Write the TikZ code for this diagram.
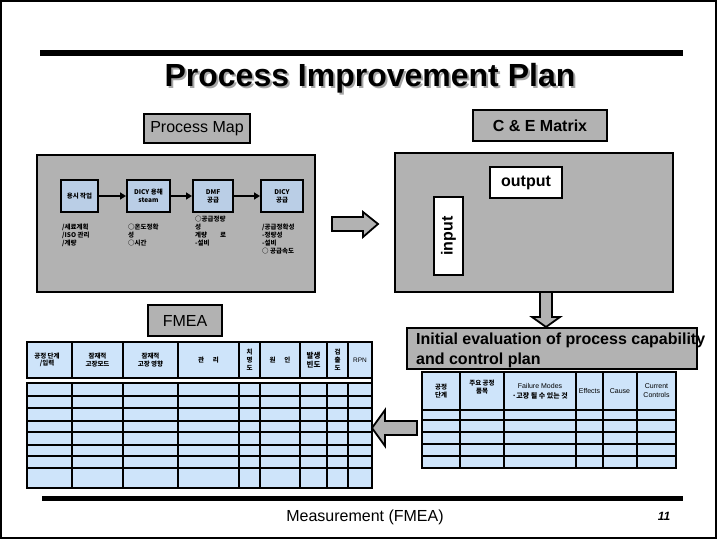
\documentclass[tikz,border=0pt]{standalone}
\usepackage{fontspec}
\setmainfont{Liberation Sans}
\newfontfamily\kr{Noto Sans CJK KR}
\usetikzlibrary{arrows.meta}
\definecolor{grayfill}{RGB}{178,178,178}
\definecolor{lblue}{RGB}{206,228,250}
\definecolor{mblue}{RGB}{186,206,230}
\begin{document}
\begin{tikzpicture}[x=1pt,y=-1pt,
  greybox/.style={draw=black,line width=2.5pt,fill=grayfill,inner sep=0pt},
  whitebox/.style={draw=black,line width=2.5pt,fill=white,inner sep=0pt},
  stepbox/.style={draw=black,line width=2pt,fill=mblue,inner sep=0pt,align=center,font=\kr\bfseries\fontsize{6.5}{8}\selectfont},
  subtxt/.style={anchor=north west,align=left,inner sep=0pt,font=\kr\bfseries\fontsize{6.5}{8}\selectfont},
  flow/.style={line width=2.5pt,-{Triangle[length=6pt,width=7pt]}},
  blockarrow/.style={draw=black,line width=1.8pt,fill=grayfill},
  tbl/.style={line width=2.6pt},
  hdr/.style={align=center,inner sep=0pt,font=\kr\bfseries\fontsize{6.5}{7.5}\selectfont},
  hdrl/.style={align=center,inner sep=0pt,font=\fontsize{7}{8}\selectfont}]
\useasboundingbox (0,0) rectangle (720,540);
\draw[line width=1.5pt] (1,1) rectangle (716,538);
% top bar and title
\fill (40,50.5) rectangle (683,56);
\node[font=\bfseries\fontsize{32}{32}\selectfont,inner sep=0pt] (title) at (370,79) {\rlap{\kern2pt\raisebox{-2pt}{\color{black!35}Process Improvement Plan}}Process Improvement Plan};
% Process map
\node[greybox,minimum width=106pt,minimum height=29pt,font=\fontsize{16}{16}\selectfont] (pmlabel) at (197,128.5) {Process Map};
\node[greybox,minimum width=278pt,minimum height=137pt] (pmbox) at (176,223.5) {};
\node[stepbox,minimum width=37pt,minimum height=32pt] (s1) at (79.5,196) {용시 작업};
\node[stepbox,minimum width=43pt,minimum height=32pt] (s2) at (148.5,196) {DICY 용해\\steam};
\node[stepbox,minimum width=40pt,minimum height=32pt] (s3) at (213,196) {DMF\\공급};
\node[stepbox,minimum width=42pt,minimum height=32pt] (s4) at (282,196) {DICY\\공급};
\draw[flow] (s1) -- (s2);
\draw[flow] (s2) -- (s3);
\draw[flow] (s3) -- (s4);
\node[subtxt] (t1) at (62,224) {/세료계획\\/ISO 관리\\/계량};
\node[subtxt] (t2) at (128,224) {○온도정확\\성\\○시간};
\node[subtxt] (t3) at (195,216) {○공급정량\\성\\계량 \hspace{10pt} 로\\-설비};
\node[subtxt] (t4) at (262,224) {/공급정확성\\-정량성\\-설비\\○ 공급속도};
% block arrow right
\coordinate (ra) at (332,224);
\draw[blockarrow] (ra) ++(0,-7) -- (363,217) -- (363,212) -- (378,224) -- (363,237) -- (363,231) -- (332,231) -- cycle;
% C & E matrix
\node[greybox,minimum width=134pt,minimum height=31pt,font=\bfseries\fontsize{16}{16}\selectfont] (celabel) at (540,125.5) {C \& E Matrix};
\node[greybox,minimum width=278pt,minimum height=139pt] (cebox) at (534,222.5) {};
\node[whitebox,minimum width=72pt,minimum height=31pt,font=\bfseries\fontsize{16}{16}\selectfont] (out) at (526,182.5) {output};
\node[whitebox,minimum width=29pt,minimum height=78pt] (in) at (448.5,236) {};
\node[rotate=90,font=\bfseries\fontsize{16}{16}\selectfont] (intext) at (in.center) {input};
% down arrow
\coordinate (da) at (546,292);
\draw[blockarrow] (540,292) -- (552,292) -- (552,317) -- (560,317) -- (546,327) -- (532,317) -- (540,317) -- cycle;
% Initial evaluation
\node[greybox,minimum width=290pt,minimum height=41pt] (init) at (552,348.5) {};
\node[anchor=west,align=left,inner sep=0pt,font=\bfseries\fontsize{16}{20}\selectfont] (inittext) at (416,350) {Initial evaluation of process capability\\and control plan};
% control plan table
\fill[lblue] (422,372) rectangle (676,468);
\draw[tbl] (422,372) rectangle (676,468);
\foreach \yy in {410,420,432,444,456} \draw[tbl] (422,\yy) -- (676,\yy);
\foreach \xx in {460,504,576,603,637} \draw[tbl] (\xx,372) -- (\xx,468);
\node[hdr] (c1) at (441,391) {공정\\단계};
\node[hdr] (c2) at (482,387) {주요 공정\\품목};
\node[hdrl,font=\fontsize{7}{10}\selectfont] (c3) at (540,391) {Failure Modes\\{\kr\bfseries ·고장 될 수 있는 것}};
\node[hdrl] (c4) at (589.5,391) {Effects};
\node[hdrl] (c5) at (620,391) {Cause};
\node[hdrl,font=\fontsize{7}{9}\selectfont] (c6) at (656.5,391) {Current\\Controls};
% left block arrow
\draw[blockarrow] (417,421) -- (417,435) -- (385,435) -- (385,446) -- (372,428) -- (385,410) -- (385,421) -- cycle;
% FMEA
\node[greybox,minimum width=74pt,minimum height=31pt,font=\fontsize{16}{16}\selectfont] (fmealabel) at (185,320.5) {FMEA};
\fill[lblue] (27,342) rectangle (372,378);
\draw[tbl] (27,342) rectangle (372,378);
\foreach \xx in {72,123,178,239,260,300,327,348} \draw[tbl] (\xx,342) -- (\xx,378);
\draw[tbl] (372,378) -- (372,383);
\fill[lblue] (27,383) rectangle (372,488);
\draw[tbl] (27,383) rectangle (372,488);
\foreach \yy in {396,408,421,432,445,456,468} \draw[tbl] (27,\yy) -- (372,\yy);
\foreach \xx in {72,123,178,239,260,300,327,348} \draw[tbl] (\xx,383) -- (\xx,488);
\node[hdr] (f1) at (47,360) {공정 단계\\/입력};
\node[hdr] (f2) at (97.5,360) {잠재적\\고장모드};
\node[hdr] (f3) at (150.5,360) {잠재적\\고장 영향};
\node[hdr] (f4) at (208.5,360) {관 \hspace{6pt} 리};
\node[hdr,font=\kr\bfseries\fontsize{6.5}{8}\selectfont] (f5) at (249.5,360) {치\\명\\도};
\node[hdr] (f6) at (280,360) {원 \hspace{6pt} 인};
\node[hdr,font=\kr\bfseries\fontsize{7.5}{9}\selectfont] (f7) at (313.5,360) {발생\\빈도};
\node[hdr,font=\kr\bfseries\fontsize{6.5}{8}\selectfont] (f8) at (337.5,360) {검\\출\\도};
\node[hdrl,font=\fontsize{6.5}{7}\selectfont] (f9) at (360,360) {RPN};
% bottom
\fill (42,495.5) rectangle (683,500.5);
\node[font=\fontsize{16}{16}\selectfont] (meas) at (365,517) {Measurement (FMEA)};
\node[font=\bfseries\itshape\fontsize{12}{12}\selectfont] (pg) at (664,516) {11};
\end{tikzpicture}
\end{document}
